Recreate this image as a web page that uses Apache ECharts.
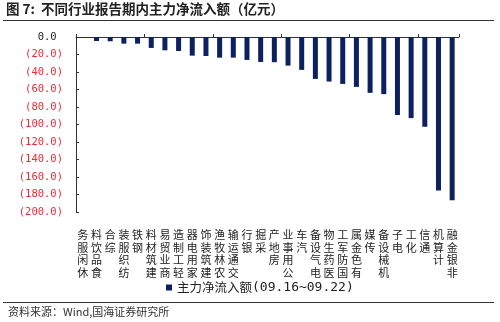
<!DOCTYPE html>
<html>
<head>
<meta charset="utf-8">
<script src="https://cdn.jsdelivr.net/npm/echarts@6/dist/echarts.min.js"></script>
<style>
  html, body { margin: 0; padding: 0; background: #fff; }
  #chart { width: 500px; height: 322px; }
</style>
</head>
<body>
<div id="chart"></div>
<script>
const categories = ['休闲服务','食品饮料','综合','纺织服装','钢铁','建筑材料','商业贸易','轻工制造','家用电器','建筑装饰','农林牧渔','交通运输','银行','采掘','房地产','公用事业','汽车','电气设备','医药生物','国防军工','有色金属','传媒','机械设备','电子','化工','通信','计算机','非银金融'];
const netInflow = [-0.3,-4.6,-4.9,-7.6,-7.6,-12.5,-15.2,-16.0,-21.3,-21.7,-23.6,-23.6,-26.2,-28.5,-28.8,-32.7,-37.6,-47.9,-50.9,-53.6,-57.0,-63.8,-65.3,-89.2,-92.7,-102.6,-175.5,-186.5];
const seriesName = '主力净流入额(09.16~09.22)';
const yMin = -200, yMax = 0, yStep = 20;
const titleText = '图 7:  不同行业报告期内主力净流入额（亿元）';
const sourceText = '资料来源：Wind,国海证券研究所';

const chart = echarts.init(document.getElementById('chart'), null, { renderer: 'canvas' });
const option = {
  animation: false,
  backgroundColor: '#ffffff',
  title: {
    text: titleText,
    left: 6, top: 2, padding: 0,
    textStyle: { fontFamily: 'Noto Sans CJK SC', fontSize: 13.5, fontWeight: 'bold', color: '#222' }
  },
  graphic: [
    { type: 'line', shape: { x1: 3, y1: 20.5, x2: 494, y2: 20.5 }, style: { stroke: '#333', lineWidth: 1 } },
    { type: 'line', shape: { x1: 3, y1: 302.5, x2: 494, y2: 302.5 }, style: { stroke: '#333', lineWidth: 1 } },
    { type: 'text', left: 8, top: 306, style: { text: sourceText, font: '11px "Noto Sans CJK SC"', fill: '#333' } }
  ],
  legend: {
    data: [seriesName],
    left: 166, top: 281, padding: 0,
    icon: 'rect', itemWidth: 6, itemHeight: 6, itemGap: 10,
    formatter: () => '{a|主力净流入额}{b|(09.16~09.22)}',
    textStyle: {
      color: '#222',
      rich: {
        a: { fontFamily: 'Noto Sans CJK SC', fontSize: 12.5, color: '#222' },
        b: { fontFamily: 'DejaVu Sans Mono', fontSize: 13, color: '#222' }
      }
    }
  },
  grid: { left: 76, right: 41, top: 37, height: 175, containLabel: false },
  xAxis: [
    {
      type: 'category', data: categories, position: 'bottom',
      axisLine: { show: false }, axisTick: { show: false },
      axisLabel: {
        interval: 0, margin: 17,
        fontFamily: 'Noto Sans CJK SC', fontSize: 11, lineHeight: 12.5, color: '#222',
        formatter: (v) => v.split('').reverse().join('\n')
      }
    },
    {
      type: 'category', data: categories, position: 'top',
      axisLine: { show: true, onZero: false, lineStyle: { color: '#333', width: 1 } },
      axisTick: { show: true, inside: false, length: 3, lineStyle: { color: '#333' } },
      axisLabel: { show: false }
    }
  ],
  yAxis: {
    type: 'value', min: yMin, max: yMax, interval: yStep,
    splitLine: { show: false },
    axisLine: { show: true, lineStyle: { color: '#333', width: 1 } },
    axisTick: { show: true, inside: true, length: 3, lineStyle: { color: '#333' } },
    axisLabel: {
      margin: 13,
      fontFamily: 'DejaVu Sans Mono', fontSize: 10.5,
      color: (v) => (Number(v) === 0 ? '#222' : '#ee2a35'),
      formatter: (v) => (v === 0 ? '0.0 ' : '(' + Math.abs(v).toFixed(1) + ')')
    }
  },
  series: [{
    name: seriesName, type: 'bar', xAxisIndex: 0,
    data: netInflow, barWidth: 5,
    itemStyle: { color: '#0d2161' }
  }]
};
chart.setOption(option);
</script>
</body>
</html>
